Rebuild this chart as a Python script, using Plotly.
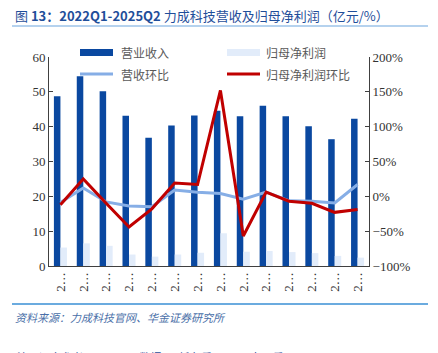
import plotly.graph_objects as go

quarters = ["2022Q1", "2022Q2", "2022Q3", "2022Q4", "2023Q1", "2023Q2", "2023Q3",
            "2023Q4", "2024Q1", "2024Q2", "2024Q3", "2024Q4", "2025Q1", "2025Q2"]
revenue = [48.7, 54.5, 50.2, 43.1, 36.8, 40.3, 43.2, 44.6, 43.0, 46.0, 43.0, 40.1, 36.4, 42.3]
net_profit = [5.3, 6.5, 5.8, 3.3, 2.7, 3.3, 3.8, 9.4, 4.1, 4.3, 4.0, 3.7, 2.9, 2.4]
revenue_qoq = [-9, 12, -8, -14, -15, 9, 6, 4, -4, 6, -6.5, -7, -9.5, 17]
profit_qoq = [-12, 25, -10, -44, -18, 19, 17, 152, -57, 6, -7, -10, -23, -19]
tick_labels = [q[0] + "…" for q in quarters]

W, H = 438, 353
L, R, T, B = 49, 369, 57, 266

def px(x):
    return (x - L) / (R - L)

def py(y):
    return (B - y) / (B - T)

C_REV = "#0A48A0"
C_NP = "#E2ECFA"
C_RQ = "#86AEE6"
C_PQ = "#C00000"
AX = "#404040"

fig = go.Figure()
fig.add_trace(go.Bar(x=quarters, y=revenue, name="营业收入", marker_color=C_REV,
                     marker_line_width=0, yaxis="y"))
fig.add_trace(go.Bar(x=quarters, y=net_profit, name="归母净利润", marker_color=C_NP,
                     marker_line_width=0, yaxis="y"))
fig.add_trace(go.Scatter(x=quarters, y=revenue_qoq, name="营收环比", mode="lines",
                         line=dict(color=C_RQ, width=3), yaxis="y2"))
fig.add_trace(go.Scatter(x=quarters, y=profit_qoq, name="归母净利润环比", mode="lines",
                         line=dict(color=C_PQ, width=3), yaxis="y2"))

serif = "Liberation Serif"
cjk = "Noto Sans CJK SC"

fig.update_layout(
    width=W, height=H,
    margin=dict(l=L, r=W - R, t=T, b=H - B, pad=0),
    paper_bgcolor="white", plot_bgcolor="white",
    showlegend=False,
    barmode="group", bargap=0.43, bargroupgap=0,
    xaxis=dict(tickmode="array", tickvals=quarters, ticktext=tick_labels,
               tickangle=-90, showgrid=False, showline=True, linecolor=AX, linewidth=1,
               ticks="", tickfont=dict(family=serif, size=13, color="#333333"),
               fixedrange=True),
    yaxis=dict(range=[0, 60], dtick=10, showgrid=False, zeroline=False, showline=True,
               linecolor=AX, linewidth=1, ticks="inside", ticklen=4, tickcolor=AX,
               tickfont=dict(family=serif, size=13, color="#333333")),
    yaxis2=dict(range=[-100, 200], dtick=50, ticksuffix="%", overlaying="y", side="right",
                showgrid=False, zeroline=False, showline=True, linecolor=AX, linewidth=1,
                ticks="inside", ticklen=4, tickcolor=AX,
                tickfont=dict(family=serif, size=13, color="#333333")),
)

shapes = []
ann = []
# title
ann.append(dict(x=px(13), y=py(15), xref="paper", yref="paper", xanchor="left", yanchor="middle",
                text="图 <b>13：2022Q1-2025Q2</b> 力成科技营收及归母净利润（亿元/%）",
                showarrow=False, font=dict(family=cjk, size=13, color="#1F4E9A")))
shapes.append(dict(type="line", xref="paper", yref="paper", x0=px(12), x1=px(428),
                   y0=py(26), y1=py(26), line=dict(color="#9CC3E8", width=1.5)))
# bottom rule + source
shapes.append(dict(type="line", xref="paper", yref="paper", x0=px(12), x1=px(428),
                   y0=py(304), y1=py(304), line=dict(color="#3A8FD4", width=1.5)))
ann.append(dict(x=px(13), y=py(317), xref="paper", yref="paper", xanchor="left", yanchor="middle",
                text="<i>资料来源：力成科技官网、华金证券研究所</i>",
                showarrow=False, font=dict(family=cjk, size=11, color="#4A6FA8")))
ann.append(dict(x=px(15), y=py(347), xref="paper", yref="paper", xanchor="left", yanchor="top",
                text="注：汇率参考2025-08-28数据，1新台币 = 0.234人民币",
                showarrow=False, font=dict(family=cjk, size=11, color="#1F4E9A")))

# legend
leg_font = dict(family=cjk, size=12, color="#595959")
shapes.append(dict(type="rect", xref="paper", yref="paper", x0=px(80), x1=px(113),
                   y0=py(56), y1=py(49), fillcolor=C_REV, line_width=0))
shapes.append(dict(type="rect", xref="paper", yref="paper", x0=px(227), x1=px(260),
                   y0=py(56), y1=py(49), fillcolor=C_NP, line_width=0))
shapes.append(dict(type="line", xref="paper", yref="paper", x0=px(80), x1=px(113),
                   y0=py(74), y1=py(74), line=dict(color=C_RQ, width=3)))
shapes.append(dict(type="line", xref="paper", yref="paper", x0=px(227), x1=px(260),
                   y0=py(74), y1=py(74), line=dict(color=C_PQ, width=3)))
for xx, yy, t in [(119, 52, "营业收入"), (264, 52, "归母净利润"),
                  (119, 74, "营收环比"), (264, 74, "归母净利润环比")]:
    ann.append(dict(x=px(xx), y=py(yy), xref="paper", yref="paper", xanchor="left",
                    yanchor="middle", text=t, showarrow=False, font=leg_font))

fig.update_layout(shapes=shapes, annotations=ann)
fig.write_html("out.html")
